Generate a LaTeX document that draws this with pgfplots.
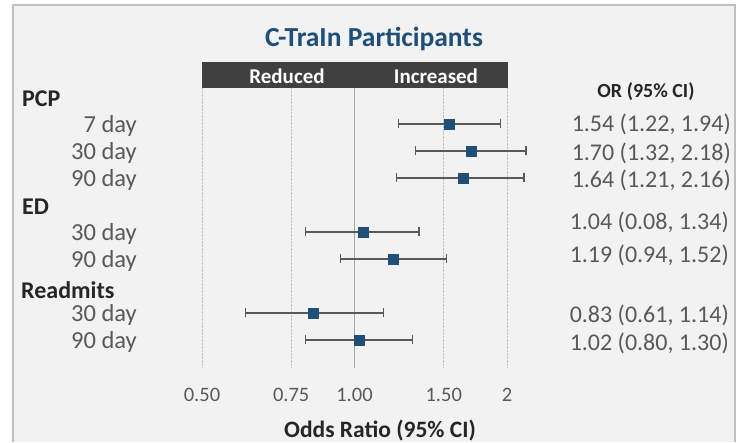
\documentclass[border=0pt]{standalone}
\usepackage{pgfplots}
\pgfplotsset{compat=1.18}
\usepackage{fontspec}
\setmainfont{Carlito}

\definecolor{txt}{HTML}{595959}
\definecolor{hdr}{HTML}{262626}
\definecolor{ttl}{HTML}{1F4E79}
\definecolor{mk}{HTML}{1F4E79}
\definecolor{band}{HTML}{404040}
\definecolor{bgfill}{HTML}{F2F2F2}
\definecolor{frame}{HTML}{BFBFBF}
\definecolor{gridc}{HTML}{BFBFBF}
\definecolor{midline}{HTML}{A6A6A6}
\definecolor{whisk}{HTML}{595959}

\newcommand{\fs}[1]{\fontsize{#1}{#1}\selectfont}

\begin{document}
\begin{tikzpicture}
% background and frame
\fill[white] (0pt,0pt) rectangle (739pt,442pt);
\fill[bgfill] (13pt,0pt) rectangle (735pt,437pt);
\draw[frame, line width=2pt] (13pt,0pt) -- (13pt,437pt) -- (735pt,437pt) -- (735pt,0pt);

% title and header band
\node[inner sep=0, text=ttl, font=\bfseries\fs{27.5}] at (374pt,403pt) {C-TraIn Participants};
\fill[band] (202pt,354pt) rectangle (508pt,380pt);
\node[inner sep=0, text=white, font=\bfseries\fs{21}] at (287pt,366pt) {Reduced};
\node[inner sep=0, text=white, font=\bfseries\fs{21}] at (436pt,366pt) {Increased};
\node[inner sep=0, text=hdr, font=\bfseries\fs{20}] at (646pt,350pt) {OR (95\% CI)};

\begin{axis}[
    at={(202pt,74pt)}, anchor=south west,
    scale only axis, width=305pt, height=280pt,
    xmode=log, xmin=0.5, xmax=2,
    ymin=-0.333, ymax=10.037, y dir=reverse,
    axis line style={draw=none},
    major tick length=0pt,
    ytick=\empty,
    xtick={0.5,0.75,1.5,2},
    xticklabels={0.50,0.75,1.50,2},
    extra x ticks={1},
    extra x tick labels={1.00},
    extra x tick style={grid style={solid, color=midline, line width=1.2pt}},
    xmajorgrids,
    grid style={densely dotted, color=gridc, line width=0.8pt},
    xticklabel style={font=\fs{20.5}, text=txt, yshift=-17pt},
    clip=false,
]
% confidence intervals
\addplot[whisk, line width=1.2pt, mark=|, mark size=4.5pt] coordinates {(1.22,1) (1.94,1)};
\addplot[whisk, line width=1.2pt, mark=|, mark size=4.5pt] coordinates {(1.32,2) (2.18,2)};
\addplot[whisk, line width=1.2pt, mark=|, mark size=4.5pt] coordinates {(1.21,3) (2.16,3)};
\addplot[whisk, line width=1.2pt, mark=|, mark size=4.5pt] coordinates {(0.80,5) (1.34,5)};
\addplot[whisk, line width=1.2pt, mark=|, mark size=4.5pt] coordinates {(0.94,6) (1.52,6)};
\addplot[whisk, line width=1.2pt, mark=|, mark size=4.5pt] coordinates {(0.61,8) (1.14,8)};
\addplot[whisk, line width=1.2pt, mark=|, mark size=4.5pt] coordinates {(0.80,9) (1.30,9)};
% odds ratios
\addplot[only marks, mark=square*, mark size=5pt, color=mk] coordinates {
    (1.54,1) (1.70,2) (1.64,3)
    (1.04,5) (1.19,6)
    (0.83,8) (1.02,9)
};
\end{axis}

% row labels
\begin{scope}[every node/.style={inner sep=0}]
\node[anchor=mid west, text=hdr, font=\bfseries\fs{24}] at (22pt,338pt) {PCP};
\node[anchor=mid west, text=hdr, font=\bfseries\fs{24}] at (22pt,230pt) {ED};
\node[anchor=mid west, text=hdr, font=\bfseries\fs{24}] at (21pt,146pt) {Readmits};
\node[anchor=mid east, text=txt, font=\fs{24.5}] at (137pt,312pt) {7 day};
\node[anchor=mid east, text=txt, font=\fs{24.5}] at (137pt,285pt) {30 day};
\node[anchor=mid east, text=txt, font=\fs{24.5}] at (137pt,258pt) {90 day};
\node[anchor=mid east, text=txt, font=\fs{24.5}] at (137pt,204pt) {30 day};
\node[anchor=mid east, text=txt, font=\fs{24.5}] at (137pt,177pt) {90 day};
\node[anchor=mid east, text=txt, font=\fs{24.5}] at (137pt,123pt) {30 day};
\node[anchor=mid east, text=txt, font=\fs{24.5}] at (137pt,96pt) {90 day};
% value column
\node[anchor=mid east, text=txt, font=\fs{24}] at (731pt,313pt) {1.54 (1.22, 1.94)};
\node[anchor=mid east, text=txt, font=\fs{24}] at (731pt,284pt) {1.70 (1.32, 2.18)};
\node[anchor=mid east, text=txt, font=\fs{24}] at (731pt,257pt) {1.64 (1.21, 2.16)};
\node[anchor=mid east, text=txt, font=\fs{24}] at (729pt,215pt) {1.04 (0.08, 1.34)};
\node[anchor=mid east, text=txt, font=\fs{24}] at (729pt,182pt) {1.19 (0.94, 1.52)};
\node[anchor=mid east, text=txt, font=\fs{24}] at (729pt,122pt) {0.83 (0.61, 1.14)};
\node[anchor=mid east, text=txt, font=\fs{24}] at (729pt,94pt) {1.02 (0.80, 1.30)};
% axis title
\node[text=hdr, font=\bfseries\fs{23.5}] at (380pt,11pt) {Odds Ratio (95\% CI)};
\end{scope}
\end{tikzpicture}
\end{document}
